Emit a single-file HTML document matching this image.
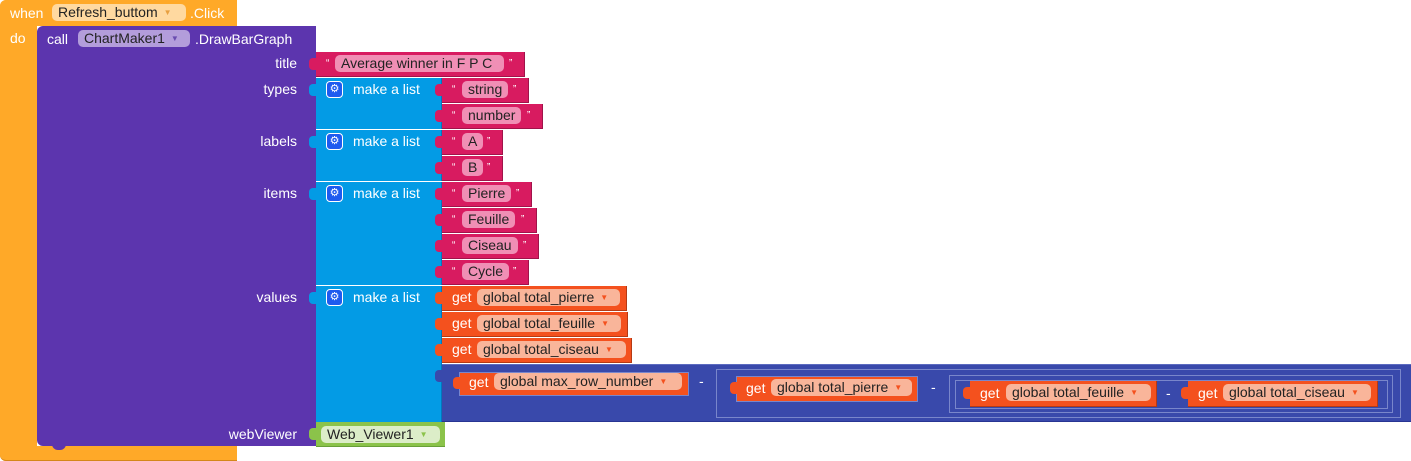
<!DOCTYPE html>
<html><head><meta charset="utf-8"><style>
body{margin:0;width:1411px;height:461px;background:#fff;position:relative;overflow:hidden;font-family:"Liberation Sans",Arial,sans-serif;font-size:14px;color:#fff}
div{position:absolute;box-sizing:border-box}
.t{white-space:nowrap;line-height:16px}
.pill{border-radius:5px;color:#222;white-space:nowrap;line-height:17px;height:17px;padding:0 6px;font-size:14px}
.str{background:#D81B60;border-bottom:1px solid #a0134a;border-right:1px solid #a0134a}
.pillS{background:#F08FB5}
.get{background:#F4511E;border-bottom:1px solid #b53a14;border-right:1px solid #b53a14}
.pillG{background:#F9B59A}
.ml{background:#039BE5;border-right:1px solid #0277bd}
.q{font-size:10px;top:4px}
.arr{font-size:8px;color:inherit;margin-left:6px;vertical-align:2px}
.plug{width:7px;height:12px;border-radius:4px 0 0 4px}
</style></head><body>
<!-- event block -->
<div style="left:0;top:0;width:237px;height:26px;background:#FFA928;border-radius:6px 0 0 0"></div>
<div style="left:0;top:0;width:37px;height:461px;background:#FFA928;border-radius:6px 0 0 6px"></div>
<div style="left:0;top:446px;width:237px;height:15px;background:#FFA928;border-radius:0 0 0 6px;border-bottom:1px solid #d4871a"></div>
<div class="t" style="left:10px;top:5px">when</div>
<div class="pill" style="left:52px;top:4px;width:134px;background:#FFD9A0">Refresh_buttom<span class="arr" style="color:#e8a040">▼</span></div>
<div class="t" style="left:190px;top:5px">.Click</div>
<div class="t" style="left:10px;top:30px">do</div>
<!-- purple call block -->
<div style="left:37px;top:26px;width:279px;height:420px;background:#5C35AE;border-radius:6px 0 0 6px"></div>
<div style="left:52px;top:444px;width:14px;height:6px;background:#5C35AE;border-radius:0 0 6px 6px"></div>
<div class="t" style="left:47px;top:31px">call</div>
<div class="pill" style="left:78px;top:30px;width:112px;background:#B39DDB">ChartMaker1<span class="arr" style="color:#6a4cb0">▼</span></div>
<div class="t" style="left:195px;top:31px">.DrawBarGraph</div>
<div class="t" style="left:240px;top:55px;width:57px;text-align:right">title</div>
<div class="t" style="left:240px;top:81px;width:57px;text-align:right">types</div>
<div class="t" style="left:240px;top:133px;width:57px;text-align:right">labels</div>
<div class="t" style="left:240px;top:185px;width:57px;text-align:right">items</div>
<div class="t" style="left:230px;top:289px;width:67px;text-align:right">values</div>
<div class="t" style="left:200px;top:426px;width:97px;text-align:right">webViewer</div>
<!-- title -->
<div class="str" style="left:316px;top:52px;width:209px;height:25px"></div>
<div class="plug" style="left:309px;top:58px;background:#D81B60"></div>
<div class="t q" style="left:326px;top:56px">“</div>
<div class="pill pillS" style="left:335px;top:55px;width:169px">Average winner in F P C</div>
<div class="t q" style="left:509px;top:56px">”</div>
<!-- make a list blocks -->
<div class="ml" style="left:316px;top:78px;width:126px;height:51px"></div>
<div class="ml" style="left:316px;top:130px;width:126px;height:51px"></div>
<div class="ml" style="left:316px;top:182px;width:126px;height:103px"></div>
<div class="ml" style="left:316px;top:286px;width:126px;height:136px"></div>
<div class="plug" style="left:309px;top:84px;background:#039BE5"></div>
<div class="plug" style="left:309px;top:136px;background:#039BE5"></div>
<div class="plug" style="left:309px;top:188px;background:#039BE5"></div>
<div class="plug" style="left:309px;top:292px;background:#039BE5"></div>
<div style="left:326px;top:81px;width:17px;height:17px;background:#1E5BEF;border-radius:4px;border:1px solid #fff;color:#fff;font-size:11px;text-align:center;line-height:15px">⚙</div>
<div style="left:326px;top:133px;width:17px;height:17px;background:#1E5BEF;border-radius:4px;border:1px solid #fff;color:#fff;font-size:11px;text-align:center;line-height:15px">⚙</div>
<div style="left:326px;top:185px;width:17px;height:17px;background:#1E5BEF;border-radius:4px;border:1px solid #fff;color:#fff;font-size:11px;text-align:center;line-height:15px">⚙</div>
<div style="left:326px;top:289px;width:17px;height:17px;background:#1E5BEF;border-radius:4px;border:1px solid #fff;color:#fff;font-size:11px;text-align:center;line-height:15px">⚙</div>
<div class="t" style="left:353px;top:81px">make a list</div>
<div class="t" style="left:353px;top:133px">make a list</div>
<div class="t" style="left:353px;top:185px">make a list</div>
<div class="t" style="left:353px;top:289px">make a list</div>
<!-- string items -->
<div class="str" style="left:442px;top:78px;width:87px;height:25px"></div>
<div class="str" style="left:442px;top:104px;width:101px;height:25px"></div>
<div class="str" style="left:442px;top:130px;width:61px;height:25px"></div>
<div class="str" style="left:442px;top:156px;width:61px;height:25px"></div>
<div class="str" style="left:442px;top:182px;width:90px;height:25px"></div>
<div class="str" style="left:442px;top:208px;width:95px;height:25px"></div>
<div class="str" style="left:442px;top:234px;width:97px;height:25px"></div>
<div class="str" style="left:442px;top:260px;width:87px;height:25px"></div>
<div class="plug" style="left:435px;top:84px;background:#D81B60"></div>
<div class="plug" style="left:435px;top:110px;background:#D81B60"></div>
<div class="plug" style="left:435px;top:136px;background:#D81B60"></div>
<div class="plug" style="left:435px;top:162px;background:#D81B60"></div>
<div class="plug" style="left:435px;top:188px;background:#D81B60"></div>
<div class="plug" style="left:435px;top:214px;background:#D81B60"></div>
<div class="plug" style="left:435px;top:240px;background:#D81B60"></div>
<div class="plug" style="left:435px;top:266px;background:#D81B60"></div>
<div class="t q" style="left:452px;top:82px">“</div><div class="pill pillS" style="left:462px;top:81px">string</div><div class="t q" style="left:513px;top:82px">”</div>
<div class="t q" style="left:452px;top:108px">“</div><div class="pill pillS" style="left:462px;top:107px">number</div><div class="t q" style="left:527px;top:108px">”</div>
<div class="t q" style="left:452px;top:134px">“</div><div class="pill pillS" style="left:462px;top:133px">A</div><div class="t q" style="left:487px;top:134px">”</div>
<div class="t q" style="left:452px;top:160px">“</div><div class="pill pillS" style="left:462px;top:159px">B</div><div class="t q" style="left:487px;top:160px">”</div>
<div class="t q" style="left:452px;top:186px">“</div><div class="pill pillS" style="left:462px;top:185px">Pierre</div><div class="t q" style="left:516px;top:186px">”</div>
<div class="t q" style="left:452px;top:212px">“</div><div class="pill pillS" style="left:462px;top:211px">Feuille</div><div class="t q" style="left:521px;top:212px">”</div>
<div class="t q" style="left:452px;top:238px">“</div><div class="pill pillS" style="left:462px;top:237px">Ciseau</div><div class="t q" style="left:523px;top:238px">”</div>
<div class="t q" style="left:452px;top:264px">“</div><div class="pill pillS" style="left:462px;top:263px">Cycle</div><div class="t q" style="left:513px;top:264px">”</div>
<!-- get blocks -->
<div class="get" style="left:442px;top:286px;width:185px;height:25px"></div>
<div class="get" style="left:442px;top:312px;width:186px;height:25px"></div>
<div class="get" style="left:442px;top:338px;width:190px;height:25px"></div>
<div class="plug" style="left:435px;top:292px;background:#F4511E"></div>
<div class="plug" style="left:435px;top:318px;background:#F4511E"></div>
<div class="plug" style="left:435px;top:344px;background:#F4511E"></div>
<div class="t" style="left:452px;top:289px">get</div><div class="pill pillG" style="left:477px;top:289px;width:143px">global total_pierre<span class="arr" style="color:#F4511E">▼</span></div>
<div class="t" style="left:452px;top:315px">get</div><div class="pill pillG" style="left:477px;top:315px;width:144px">global total_feuille<span class="arr" style="color:#F4511E">▼</span></div>
<div class="t" style="left:452px;top:341px">get</div><div class="pill pillG" style="left:477px;top:341px;width:149px">global total_ciseau<span class="arr" style="color:#F4511E">▼</span></div>
<!-- big minus block -->
<div style="left:442px;top:364px;width:969px;height:58px;background:#3949AB;border-top:1px solid #5c6bc0;border-bottom:1px solid #283593"></div>
<div class="plug" style="left:435px;top:370px;background:#3949AB"></div>
<div class="get" style="left:459px;top:372px;width:230px;height:24px;border:1px solid #7986cb"></div>
<div class="plug" style="left:453px;top:377px;background:#F4511E"></div>
<div class="t" style="left:469px;top:374px">get</div><div class="pill pillG" style="left:494px;top:373px;width:188px">global max_row_number<span class="arr" style="color:#F4511E">▼</span></div>
<div class="t" style="left:699px;top:373px">-</div>
<div style="left:716px;top:369px;width:685px;height:49px;border:1px solid #7986cb"></div>
<div class="get" style="left:736px;top:376px;width:182px;height:26px;border:1px solid #7986cb"></div>
<div class="plug" style="left:730px;top:382px;background:#F4511E"></div>
<div class="t" style="left:746px;top:380px">get</div><div class="pill pillG" style="left:771px;top:379px;width:141px">global total_pierre<span class="arr" style="color:#F4511E">▼</span></div>
<div class="t" style="left:931px;top:379px">-</div>
<div style="left:949px;top:375px;width:444px;height:38px;border:1px solid #7986cb"></div>
<div style="left:955px;top:380px;width:433px;height:29px;border:1px solid #7986cb"></div>
<div class="get" style="left:970px;top:381px;width:187px;height:26px"></div>
<div class="plug" style="left:963px;top:387px;background:#F4511E"></div>
<div class="t" style="left:980px;top:385px">get</div><div class="pill pillG" style="left:1006px;top:384px;width:145px">global total_feuille<span class="arr" style="color:#F4511E">▼</span></div>
<div class="t" style="left:1166px;top:385px">-</div>
<div class="get" style="left:1188px;top:381px;width:190px;height:26px"></div>
<div class="plug" style="left:1181px;top:387px;background:#F4511E"></div>
<div class="t" style="left:1198px;top:385px">get</div><div class="pill pillG" style="left:1223px;top:384px;width:148px">global total_ciseau<span class="arr" style="color:#F4511E">▼</span></div>
<!-- webviewer -->
<div style="left:316px;top:422px;width:129px;height:25px;background:#8BC34A;border-bottom:1px solid #689f38"></div>
<div class="plug" style="left:309px;top:428px;background:#8BC34A"></div>
<div class="pill" style="left:321px;top:426px;width:119px;background:#DCEDC8">Web_Viewer1<span class="arr" style="color:#8BC34A">▼</span></div>
</body></html>
